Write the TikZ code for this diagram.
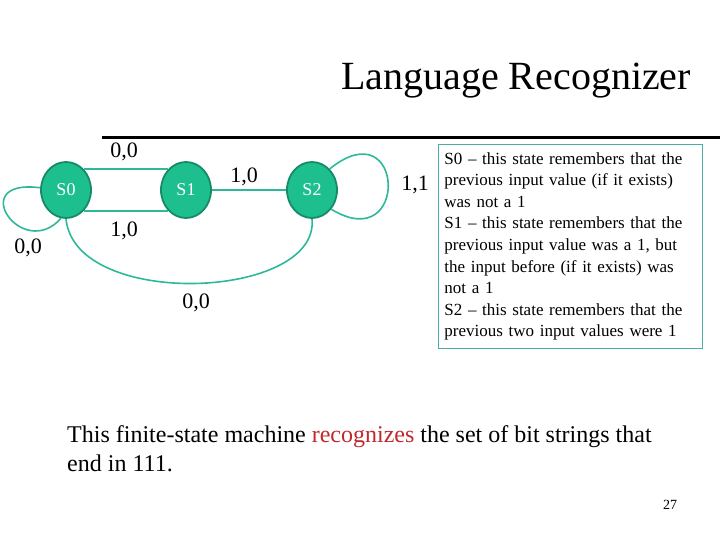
\documentclass[tikz,border=0pt]{standalone}
\usepackage{fontspec}
\setmainfont{Liberation Serif}
\usetikzlibrary{shapes.geometric}
\definecolor{statefill}{HTML}{1DBF8E}
\definecolor{stateline}{HTML}{178A66}
\definecolor{edgecolor}{HTML}{2DB89A}
\definecolor{boxline}{HTML}{4AAFA0}
\definecolor{keyred}{HTML}{C0282D}

\begin{document}
\begin{tikzpicture}[x=1pt, y=1pt,
    fsmstate/.style={ellipse, draw=stateline, line width=1.8pt, fill=statefill,
        minimum width=50pt, minimum height=56pt, inner sep=0pt, text=white,
        font=\fontsize{18}{20}\selectfont},
    edgelbl/.style={anchor=base, font=\fontsize{22}{26}\selectfont},
    fsmedge/.style={draw=edgecolor, line width=1.6pt}]
    \useasboundingbox (0,0) rectangle (720,540);

    % Title
    \node[anchor=base, font=\fontsize{40}{48}\selectfont] (title) at (516,450) {Language Recognizer};
    \draw[line width=3pt] (102,402) -- (720,402);

    % States
    \node[fsmstate] (s0) at (66,350) {S0};
    \node[fsmstate] (s1) at (186,350) {S1};
    \node[fsmstate] (s2) at (312,350) {S2};

    % Transitions
    \draw[fsmedge] (s0.49) -- (s1.131);
    \draw[fsmedge] (s0.-49) -- (s1.-131);
    \draw[fsmedge] (s1) -- (s2);
    \draw[fsmedge] (s0.south) .. controls (75,230) and (320,240) .. (s2.south);
    \draw[fsmedge] (s0.175) .. controls (-35,362) and (22,278) .. (s0.260);
    \draw[fsmedge] (s2.50) .. controls (405,432) and (410,283) .. (s2.-45);

    % Output labels
    \node[edgelbl] (l00a) at (124,382) {0,0};
    \node[edgelbl] (l10a) at (124,303) {1,0};
    \node[edgelbl] (l00b) at (28,286) {0,0};
    \node[edgelbl] (l10b) at (244,357) {1,0};
    \node[edgelbl] (l00c) at (196,231) {0,0};
    \node[edgelbl] (l11) at (415,349) {1,1};

    % Meaning of the states
    \node[draw=boxline, line width=0.8pt, anchor=north west, minimum width=264pt,
        minimum height=204pt, text width=252pt, inner xsep=6pt, inner ysep=4pt, align=left,
        font=\fontsize{17}{21.6}\selectfont] (notes) at (438,396)
        {S0 -- this state remembers that the\\
         previous input value (if it exists)\\
         was not a 1\\
         S1 -- this state remembers that the\\
         previous input value was a 1, but\\
         the input before (if it exists) was\\
         not a 1\\
         S2 -- this state remembers that the\\
         previous two input values were 1};

    % Caption
    \node[anchor=north west, inner sep=0pt, align=left, font=\fontsize{24}{29}\selectfont] (caption) at (67,115)
        {This finite-state machine \textcolor{keyred}{recognizes} the set of bit strings that\\
         end in 111.};
    \node[anchor=base, font=\fontsize{14}{16}\selectfont] (pagenum) at (670,30) {27};
\end{tikzpicture}
\end{document}
